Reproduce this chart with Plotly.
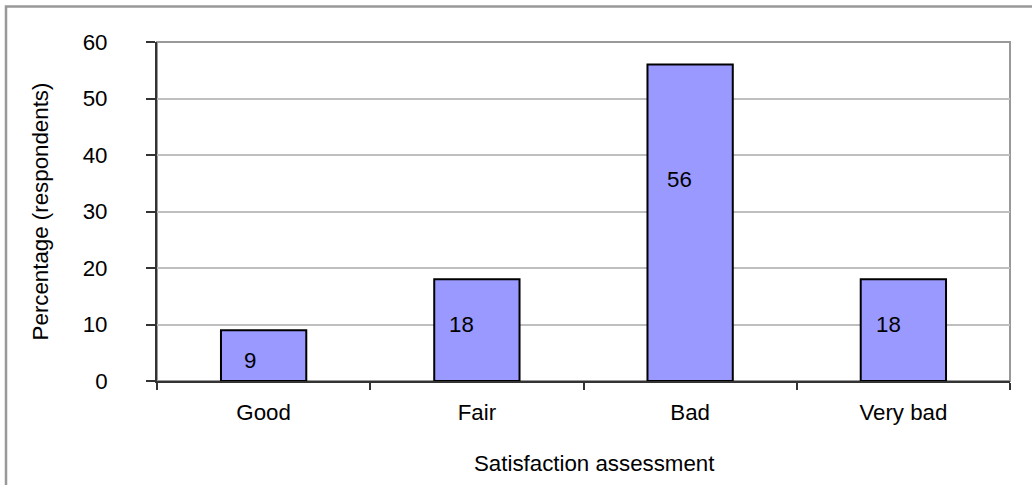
import plotly.graph_objects as go

categories = ["Good", "Fair", "Bad", "Very bad"]
values = [9, 18, 56, 18]
label_text = ["9", "18", "56", "18"]
y_ticks = [0, 10, 20, 30, 40, 50, 60]

# label anchor heights (data units) and horizontal offset, as seen in the reference
label_y = [3.6, 10.0, 35.7, 10.0]
label_xshift = [-14, -15, -11, -15]

FONT = "Liberation Sans, Arial, sans-serif"
FS = 22.3

fig = go.Figure()
fig.add_trace(go.Bar(
    x=categories, y=values,
    marker=dict(color="#9999ff", line=dict(color="#000000", width=2)),
    hoverinfo="x+y",
))

for c, ly, t, dx in zip(categories, label_y, label_text, label_xshift):
    fig.add_annotation(x=c, y=ly, text=t, showarrow=False, xshift=dx,
                       font=dict(family=FONT, size=FS, color="#000000"))

# x-axis title (slightly right of centre, as in the reference)
fig.add_annotation(xref="paper", yref="paper", x=(594.5 - 157) / 853, y=(381 - 463) / 339,
                   text="Satisfaction assessment", showarrow=False,
                   xanchor="center", yanchor="middle",
                   font=dict(family=FONT, size=FS, color="#000000"))

# outer chart border
fig.add_shape(type="rect", xref="paper", yref="paper",
              x0=(6 - 157) / 853, x1=(1045 - 157) / 853,
              y0=(381 - 495) / 339, y1=(381 - 6.5) / 339,
              line=dict(color="#999999", width=2.5), layer="below")
# plot area border
fig.add_shape(type="rect", xref="paper", yref="paper", x0=0, x1=1, y0=0, y1=1,
              line=dict(color="#999999", width=2), layer="below")

fig.update_layout(
    width=1032, height=485,
    margin=dict(l=157, r=22, t=42, b=104),
    paper_bgcolor="white", plot_bgcolor="white",
    font=dict(family=FONT, size=FS, color="#000000"),
    bargap=0.6,
    showlegend=False,
)
fig.update_xaxes(
    type="category",
    showline=True, linecolor="#333333", linewidth=2,
    ticks="outside", tickson="boundaries", ticklen=7, tickcolor="#333333", tickwidth=1.5,
    ticklabelstandoff=10,
    tickfont=dict(family=FONT, size=FS),
    showgrid=False, zeroline=False,
)
fig.update_yaxes(
    range=[0, 60], tickvals=y_ticks,
    showline=True, linecolor="#333333", linewidth=2,
    ticks="outside", ticklen=9, tickcolor="#333333", tickwidth=1.5,
    ticklabelstandoff=34,
    showgrid=True, gridcolor="#bfbfbf", gridwidth=1.5,
    zeroline=False,
    title=dict(text="Percentage (respondents)", standoff=28,
               font=dict(family=FONT, size=FS)),
    tickfont=dict(family=FONT, size=FS),
)

fig.write_html("out.html")
